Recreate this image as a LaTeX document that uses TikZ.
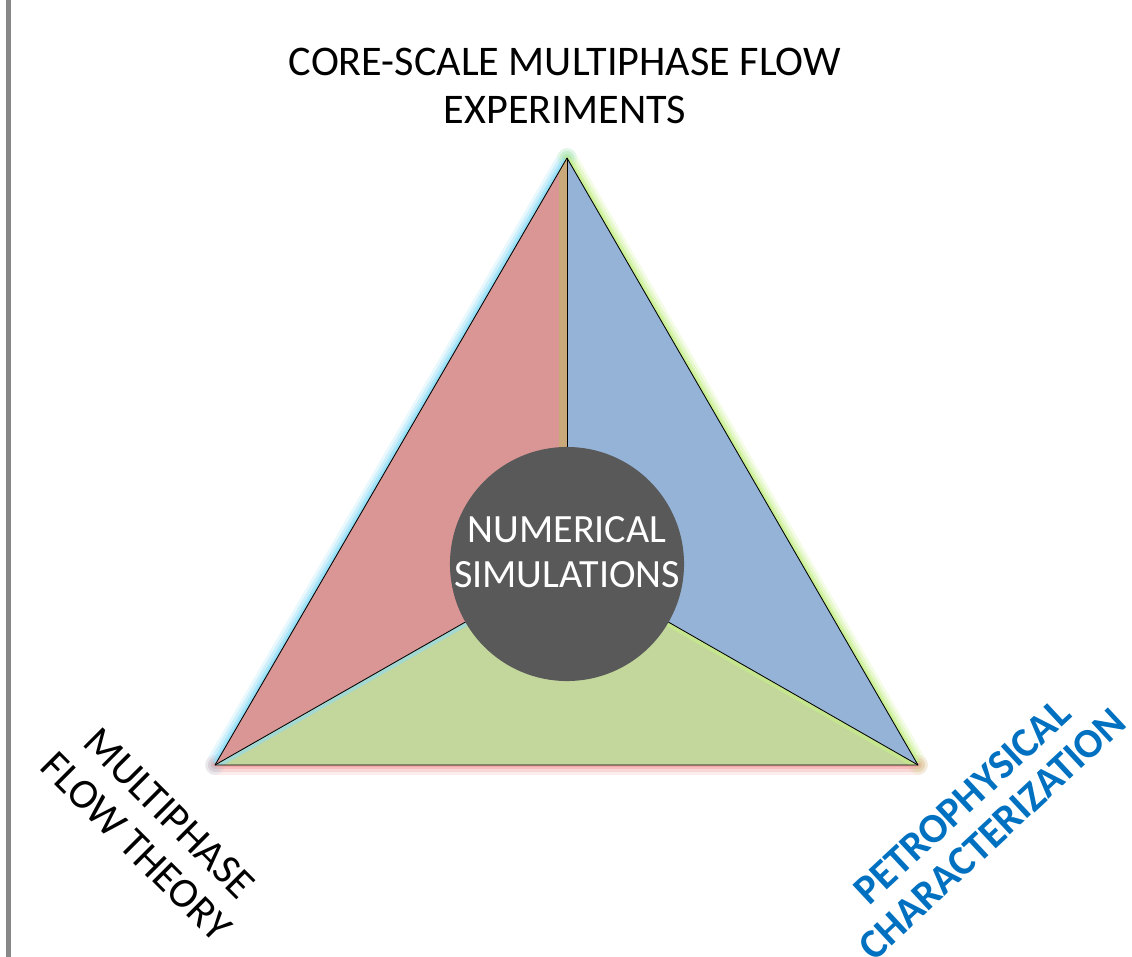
\documentclass[tikz,border=0pt]{standalone}
\usepackage{fontspec}
\setmainfont{Carlito}
\usepackage{xcolor}
\definecolor{redpart}{HTML}{D99694}
\definecolor{bluepart}{HTML}{95B3D7}
\definecolor{greenpart}{HTML}{C3D69B}
\definecolor{corefill}{HTML}{595959}
\definecolor{petroblue}{HTML}{0070C0}
\definecolor{framegray}{HTML}{888888}
\definecolor{tanband}{HTML}{C9A97A}
\definecolor{glowcyan}{HTML}{8EDCF5}
\definecolor{glowgreen}{HTML}{C6EE8A}
\definecolor{glowred}{HTML}{F2A5A5}

\begin{document}
\begin{tikzpicture}[x=0.025cm,y=-0.025cm]
%style for the three sectors
\tikzstyle{sector} = [draw=black, line width=0.6pt, line join=round]

%style for glow along the outer edges
\tikzstyle{glow} = [line cap=round, line join=round]

%style for corner labels
\tikzstyle{label} = [align=center, font=\fontsize{30}{33.5}\selectfont]

%style for the core circle
\tikzstyle{core} = [circle, fill=corefill, minimum size=5.85cm, inner sep=0pt]

%style for the core text
\tikzstyle{coretext} = [align=center, text=white, font=\fontsize{28.5}{32}\selectfont]

\useasboundingbox (0,0) rectangle (1132,957);

%frame line
\fill[framegray] (6,0) rectangle (11,957);

%corners
\coordinate (apex) at (567,158);
\coordinate (left) at (215,765);
\coordinate (right) at (918,765);
\coordinate (centre) at (567,564);

%glow
\foreach \w/\o in {14pt/0.2, 10pt/0.3, 6pt/0.5, 3pt/0.8} {
  \draw[glow, glowcyan, line width=\w, opacity=\o] (left) -- (apex);
  \draw[glow, glowgreen, line width=\w, opacity=\o] (apex) -- (right);
  \draw[glow, glowred, line width=\w, opacity=\o] (left) -- (right);
}

%sectors
\fill[redpart] (apex) -- (left) -- (centre) -- cycle;
\fill[bluepart] (apex) -- (right) -- (centre) -- cycle;
\fill[greenpart] (left) -- (right) -- (centre) -- cycle;

%bands along inner lines
\begin{scope}
\clip (apex) -- (left) -- (centre) -- cycle;
\fill[tanband] (559,150) rectangle (567,564);
\end{scope}
\begin{scope}
\clip (left) -- (right) -- (centre) -- cycle;
\draw[glowcyan, line width=6pt, opacity=0.6] (left) -- (centre);
\draw[glowgreen, line width=6pt, opacity=0.7] (right) -- (centre);
\end{scope}

\draw[sector] (apex) -- (left) -- (right) -- cycle;
\draw[sector] (apex) -- (centre);
\draw[sector] (left) -- (centre);
\draw[sector] (right) -- (centre);

%place nodes
\node[core] (numerical) at (centre) {};
\node[coretext] (numericalText) at ([yshift=8.5pt]numerical.center) {NUMERICAL\\SIMULATIONS};

\node[label] (experiments) at (565,86) {CORE-SCALE MULTIPHASE FLOW\\EXPERIMENTS};

\node[label, rotate=-45] (theory) at (153,830) {MULTIPHASE\\FLOW THEORY};

\node[label, rotate=43, text=petroblue, font=\bfseries\fontsize{29.5}{31}\selectfont] (petro) at (977,818) {PETROPHYSICAL\\CHARACTERIZATION};
\end{tikzpicture}
\end{document}
